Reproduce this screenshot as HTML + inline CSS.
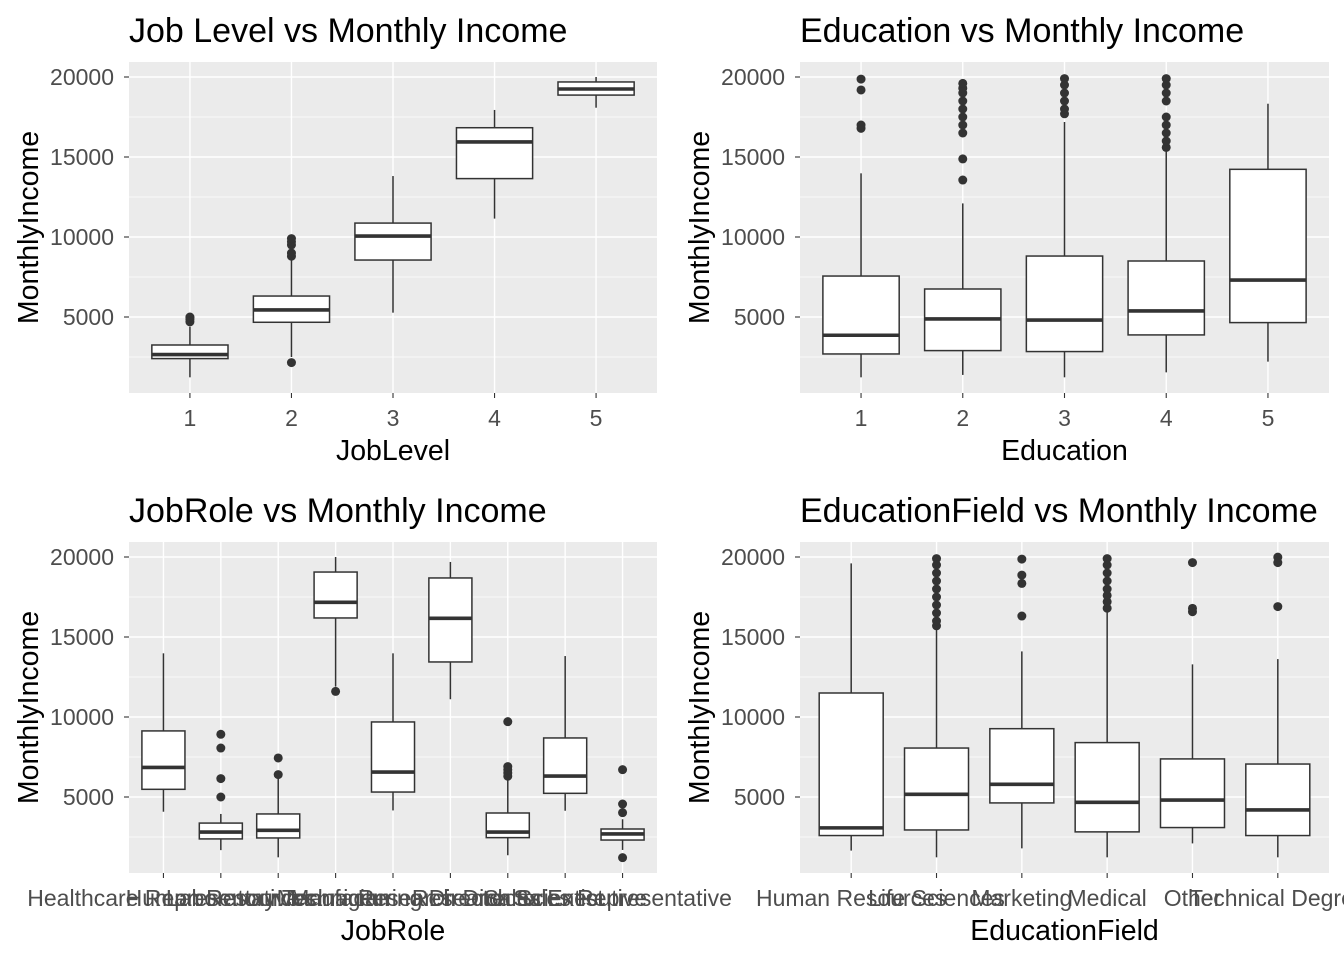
<!DOCTYPE html>
<html><head><meta charset="utf-8"><style>
body{margin:0;background:#fff;width:1344px;height:960px;overflow:hidden}
svg text{font-family:"Liberation Sans",Arial,sans-serif}
</style></head><body>
<svg id="c" width="1344" height="960" xmlns="http://www.w3.org/2000/svg"></svg>
<script>
// Panel 1: Job Level
const jobLevelCats = ["1","2","3","4","5"];
const jobLevelStats = [[1230,2400,2650,3250,4400],[2500,4670,5440,6310,8560],[5270,8560,10060,10870,13810],[11150,13650,15940,16830,17940],[18080,18870,19250,19690,20000]];
const jobLevelOut = [[4700,4850,4950,5000],[2150,8800,9000,9500,9700,9900],[],[],[]];
// Panel 2: Education
const eduCats = ["1","2","3","4","5"];
const eduStats = [[1230,2690,3860,7560,13980],[1380,2900,4880,6750,12100],[1230,2840,4810,8810,17190],[1540,3880,5380,8500,15440],[2210,4650,7310,14230,18330]];
const eduOut = [[16790,17000,19190,19870],[13560,14880,16500,17000,17500,18000,18500,19000,19300,19600],[17700,18000,18500,19000,19500,19900],[15600,16000,16500,17000,17500,18500,19000,19500,19900],[]];
// Panel 3: JobRole
const roleCats = ["Healthcare Representative","Human Resources","Laboratory Technician","Manager","Manufacturing Director","Research Director","Research Scientist","Sales Executive","Sales Representative"];
const roleStats = [[4080,5480,6850,9130,13980],[1680,2380,2810,3370,3940],[1230,2440,2920,3940,6200],[11900,16190,17170,19060,20000],[4160,5310,6560,9690,13980],[11110,13440,16170,18690,19690],[1360,2460,2810,4000,6170],[4140,5230,6310,8690,13810],[1690,2310,2690,3000,3610]];
const roleOut = [[],[5000,6150,8060,8920],[6400,7440],[11600],[],[],[6300,6500,6700,6900,9710],[],[1210,4020,4560,6710]];
// Panel 4: EducationField
const fieldCats = ["Human Resources","Life Sciences","Marketing","Medical","Other","Technical Degree"];
const fieldStats = [[1650,2590,3070,11500,19600],[1230,2940,5170,8060,15440],[1790,4630,5790,9270,14100],[1230,2820,4670,8400,16580],[2100,3090,4810,7380,13290],[1230,2590,4190,7060,13620]];
const fieldOut = [[],[15700,16000,16500,17000,17500,18000,18500,19000,19500,19900],[16310,18350,18870,19870],[16800,17200,17600,18000,18500,19000,19500,19900],[16580,16790,19650],[16900,19650,19990]];
const yTicks = [5000,10000,15000,20000];
const yMinor = [2500,7500,12500,17500];

const svg = document.getElementById('c');
const NS = "http://www.w3.org/2000/svg";
function mk(tag, attrs, parent){const e=document.createElementNS(NS,tag);for(const k in attrs)e.setAttribute(k,attrs[k]);(parent||svg).appendChild(e);return e;}

function panel(px, py, pw, ph, y20, cats, stats, outs, title, xtitle, pname){
  const g = mk('g',{});
  
  
  const yScale = v => y20 + (20000 - v) * 0.016;
  const n = cats.length;
  const sp = pw / (n + 0.2);
  const xScale = i => px + sp * (0.6 + i);
  const bg = mk('rect',{x:px,y:py,width:pw,height:ph,fill:'#ebebeb'},g);
  
  
  yMinor.forEach(v=>mk('line',{x1:px,x2:px+pw,y1:yScale(v),y2:yScale(v),stroke:'#fff','stroke-width':0.7},g));
  yTicks.forEach(v=>{
    mk('line',{x1:px,x2:px+pw,y1:yScale(v),y2:yScale(v),stroke:'#fff','stroke-width':1.4},g);
    mk('line',{x1:px-5,x2:px,y1:yScale(v),y2:yScale(v),stroke:'#333','stroke-width':1.1},g);
    const t = mk('text',{x:px-15,y:yScale(v)+8,'text-anchor':'end','font-size':23,fill:'#4d4d4d'},g);
    t.textContent = v;
    
    
  });
  cats.forEach((c,i)=>{
    const x = xScale(i);
    mk('line',{x1:x,x2:x,y1:py,y2:py+ph,stroke:'#fff','stroke-width':1.4},g);
    mk('line',{x1:x,x2:x,y1:py+ph,y2:py+ph+5,stroke:'#333','stroke-width':1.1},g);
    const t = mk('text',{x:x,y:py+ph+33,'text-anchor':'middle','font-size':23,fill:'#4d4d4d'},g);
    t.textContent = c;
    
    
  });
  stats.forEach((s,i)=>{
    const x = xScale(i), w = sp*0.75;
    const bx = mk('g',{},g);
    
    
    mk('line',{x1:x,x2:x,y1:yScale(s[0]),y2:yScale(s[1]),stroke:'#333','stroke-width':1.5},bx);
    mk('line',{x1:x,x2:x,y1:yScale(s[3]),y2:yScale(s[4]),stroke:'#333','stroke-width':1.5},bx);
    mk('rect',{x:x-w/2,y:yScale(s[3]),width:w,height:yScale(s[1])-yScale(s[3]),fill:'#fff',stroke:'#333','stroke-width':1.5},bx);
    mk('line',{x1:x-w/2,x2:x+w/2,y1:yScale(s[2]),y2:yScale(s[2]),stroke:'#333','stroke-width':3.6},bx);
    outs[i].forEach(v=>{
      const p = mk('circle',{cx:x,cy:yScale(v),r:4.5,fill:'#333'},bx);
      
      
    });
  });
  const tt = mk('text',{x:px,y:py-20,'font-size':34,fill:'#000'},g);
  tt.textContent = title;
  
  
  const xt = mk('text',{x:px+pw/2,y:py+ph+67,'text-anchor':'middle','font-size':28.5,fill:'#000'},g);
  xt.textContent = xtitle;
  
  
  const yt = mk('text',{x:0,y:0,'text-anchor':'middle','font-size':28.5,fill:'#000',transform:`translate(${px-91},${py+ph/2}) rotate(-90)`},g);
  yt.textContent = 'MonthlyIncome';
  
  
}
panel(129,62,528,331,77,jobLevelCats,jobLevelStats,jobLevelOut,'Job Level vs Monthly Income','JobLevel','joblevel-panel');
panel(800,62,529,331,77,eduCats,eduStats,eduOut,'Education vs Monthly Income','Education','education-panel');
panel(129,542,528,331,557,roleCats,roleStats,roleOut,'JobRole vs Monthly Income','JobRole','jobrole-panel');
panel(800,542,529,331,557,fieldCats,fieldStats,fieldOut,'EducationField vs Monthly Income','EducationField','educationfield-panel');
</script>
</body></html>
